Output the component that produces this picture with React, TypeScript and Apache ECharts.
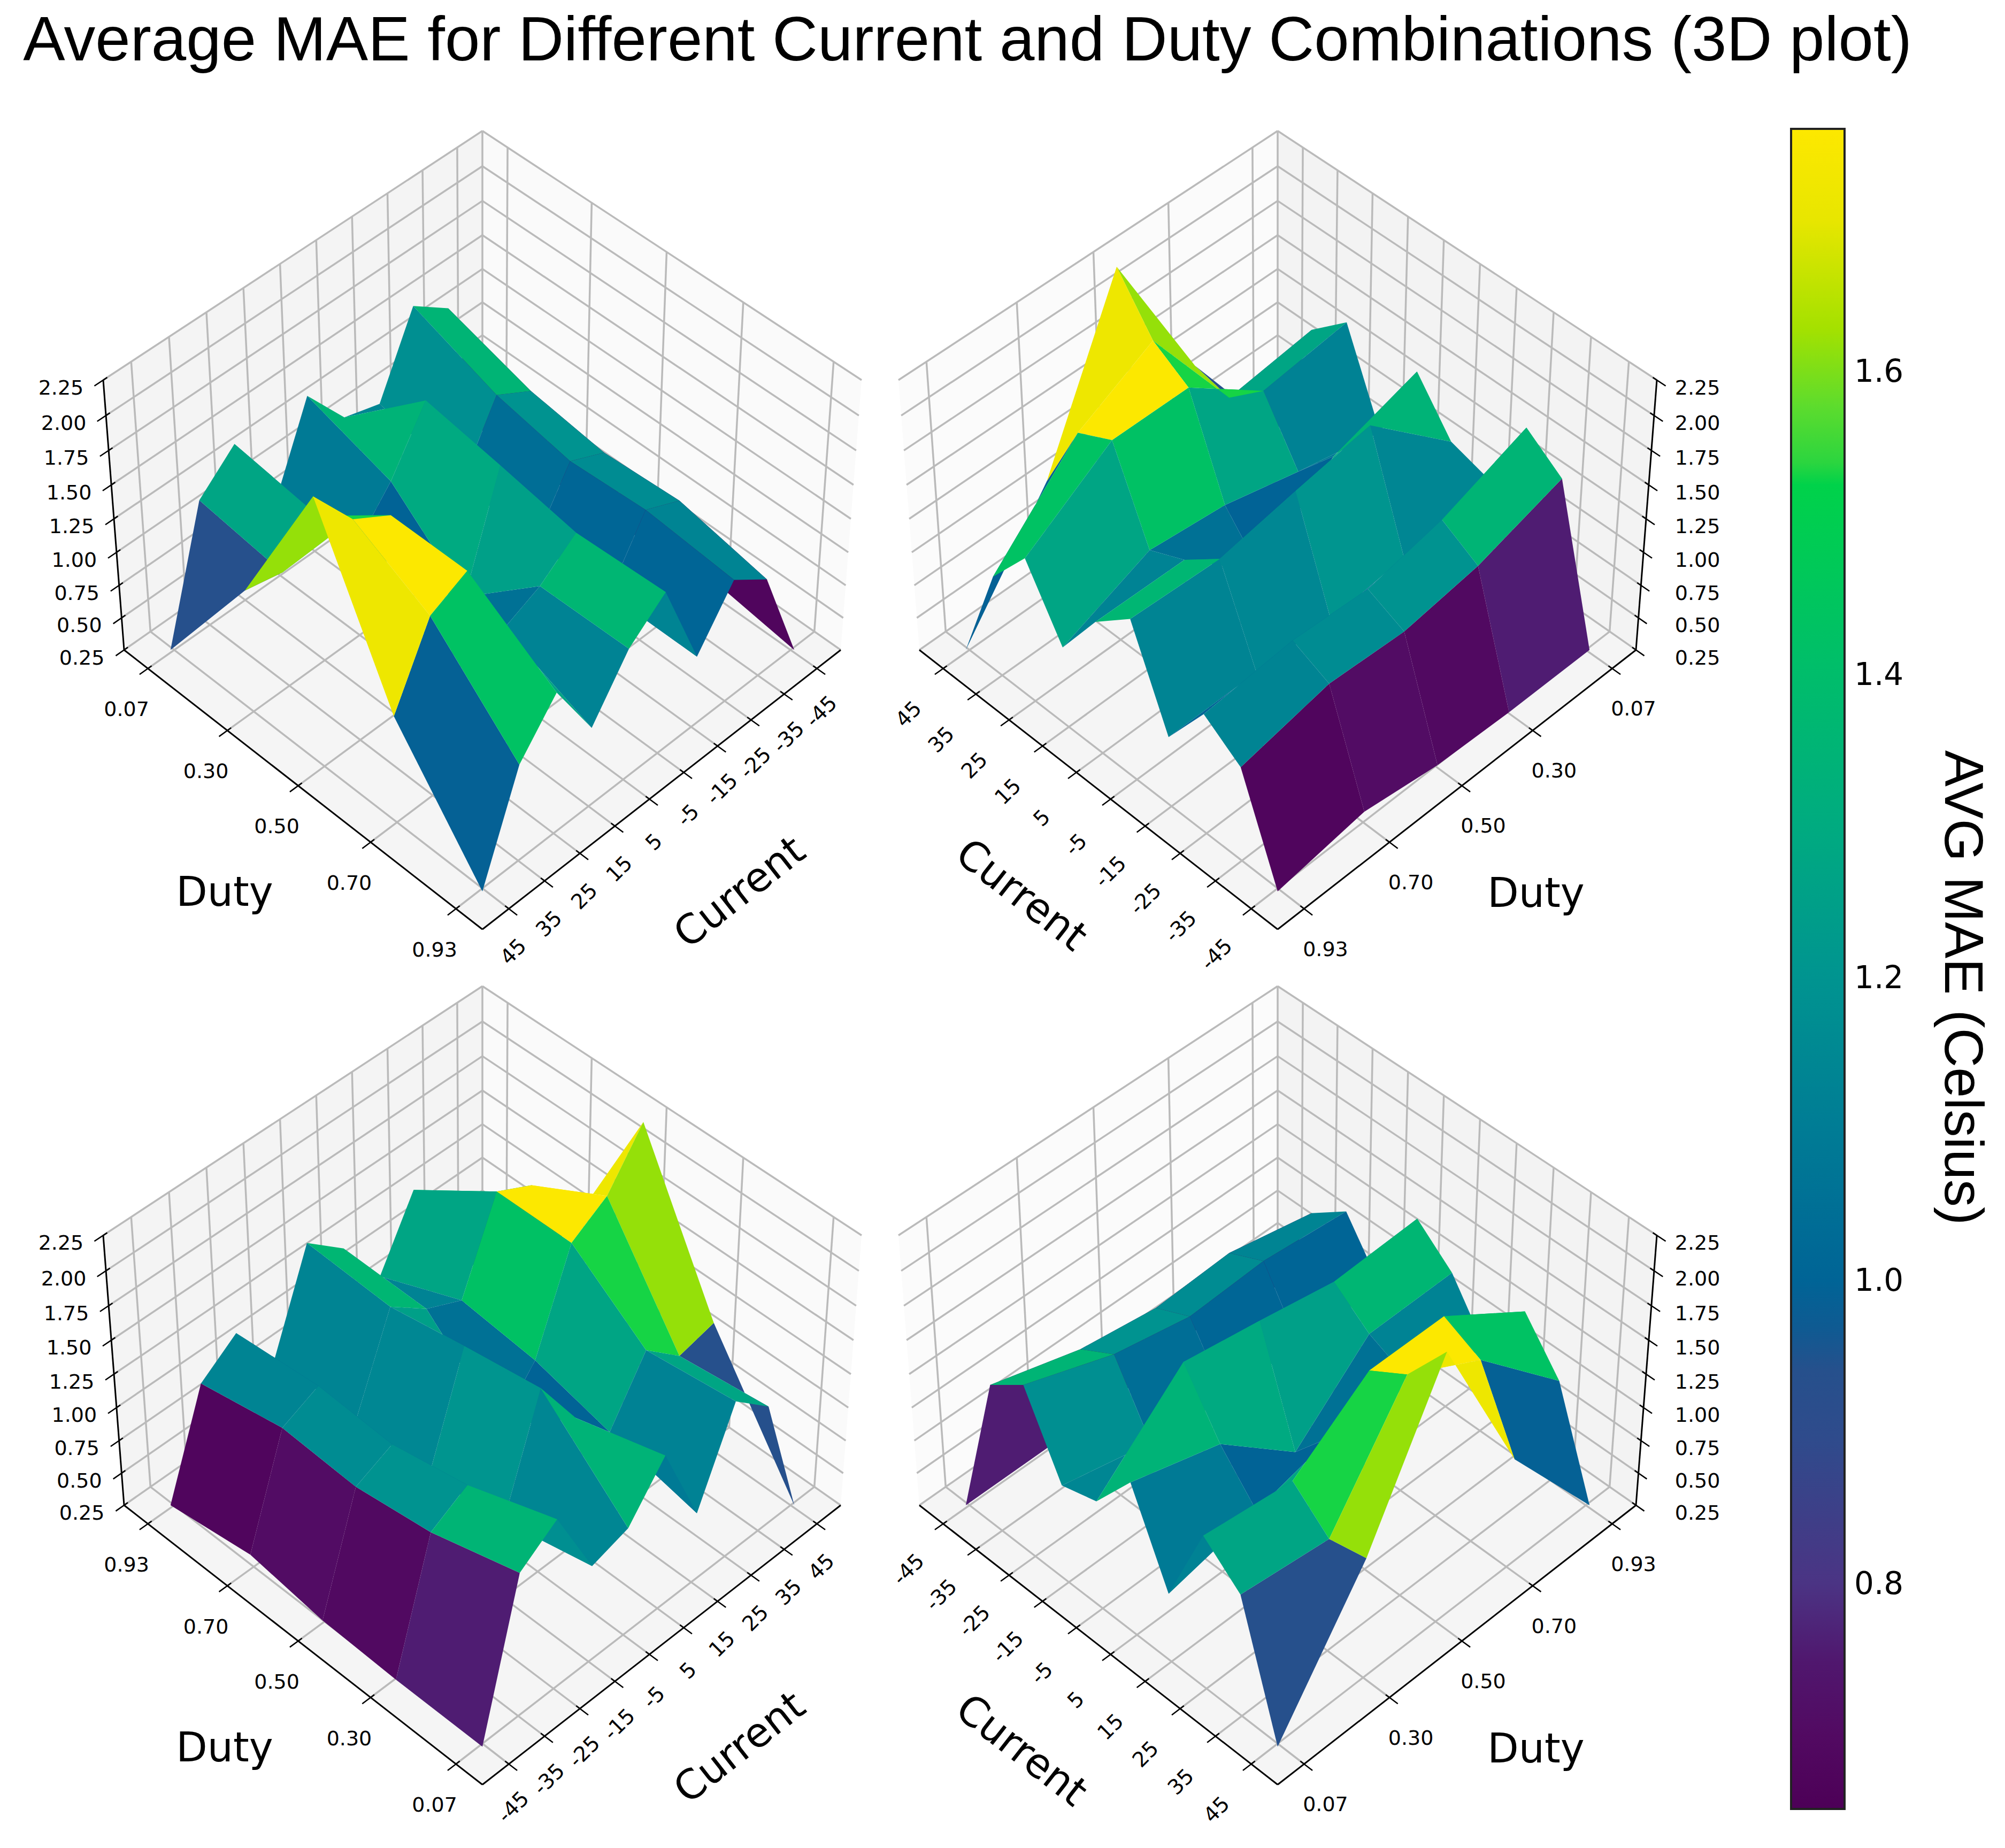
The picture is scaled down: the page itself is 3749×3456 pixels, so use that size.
import { useEffect, useRef } from 'react';
import * as echarts from 'echarts';

const currents = [-45, -35, -25, -15, -5, 5, 15, 25, 35, 45];
const duties = [0.07, 0.3, 0.5, 0.7, 0.93];
const dutyLabels = ['0.07', '0.30', '0.50', '0.70', '0.93'];
const zTicks = ['0.25', '0.50', '0.75', '1.00', '1.25', '1.50', '1.75', '2.00', '2.25'];

// AVG MAE per current, one value per duty (0.07 .. 0.93)
const maeM45 = [0.25, 0.25, 0.27, 0.35, 0.25];
const maeM35 = [1.36, 1.17, 1.09, 1.12, 0.99];
const maeM25 = [1.55, 1.32, 1.21, 1.24, 1.18];
const maeM15 = [1.0, 0.85, 0.78, 0.8, 0.8];
const maeM5 = [1.08, 1.64, 1.55, 1.45, 1.48];
const maeP5 = [1.42, 1.23, 0.76, 1.25, 1.26];
const maeP15 = [0.79, 0.93, 1.07, 1.13, 0.87];
const maeP25 = [1.43, 1.35, 1.75, 1.75, 1.34];
const maeP35 = [1.2, 1.12, 1.91, 1.62, 1.01];
const maeP45 = [0.25, 1.18, 2.26, 1.08, 0.25];
const mae = [maeM45, maeM35, maeM25, maeM15, maeM5, maeP5, maeP15, maeP25, maeP35, maeP45];

// colour bar
const cbMin = 0.651;
const cbMax = 1.76;
const cbTicks = [0.8, 1.0, 1.2, 1.4, 1.6];
const cmapValues = [0.651, 0.7, 0.748, 0.8, 0.895, 0.94, 0.968, 1.0, 1.1, 1.2, 1.3, 1.4, 1.525, 1.54, 1.577, 1.628, 1.7, 1.76];
const cmapColors = [
  '#4d0057', '#520a62', '#50176e', '#4b3484', '#2f4b8c', '#26508c', '#0f5a92', '#006496', '#007c95',
  '#009490', '#00ab80', '#00bd6b', '#00d24a', '#2cd53f', '#5ddc2d', '#a4e100', '#e8e600', '#fde800',
];

const hex = (c: string) => [1, 3, 5].map((i) => parseInt(c.slice(i, i + 2), 16));

const colorOf = (v: number) => {
  if (v <= cmapValues[0]) return cmapColors[0];
  for (let i = 1; i < cmapValues.length; i++) {
    if (v <= cmapValues[i]) {
      const f = (v - cmapValues[i - 1]) / (cmapValues[i] - cmapValues[i - 1]);
      const a = hex(cmapColors[i - 1]);
      const b = hex(cmapColors[i]);
      return `rgb(${a.map((x, k) => Math.round(x + (b[k] - x) * f)).join(',')})`;
    }
  }
  return cmapColors[cmapColors.length - 1];
};

// box coordinates as matplotlib's perspective view gives them, s and t run along the floor
const project = (s: number, t: number, w: number) => {
  const W = 1 - 0.0522 * (s + t + w);
  return [(635 * (s - t)) / W, (468 * (s + t - 1) - 452 * w) / W];
};

const currentPos = (c: number) => 0.5 + (c * 0.43) / 45;
const zPos = (z: number) => (z - 0.25) / 2;
// the surface reaches a touch past its own tick marks in the reference
const stretch = (v: number) => 0.5 + (v - 0.5) * 1.012;

type Panel = {
  cx: number;
  cy: number;
  map: (duty: number, cur: number) => number[];
  zRight: boolean;
  sTicks: number[];
  tTicks: number[];
  leftWall: string;
  rightWall: string;
};

const dutyPos = duties;
const curPos = currents.map(currentPos);

const panels: Panel[] = [
  { cx: 902, cy: 1215.5, map: (d, c) => [d, c], zRight: false, sTicks: dutyPos, tTicks: curPos, leftWall: '#f4f4f4', rightWall: '#fafafa' },
  { cx: 2389, cy: 1215.5, map: (d, c) => [1 - c, d], zRight: true, sTicks: curPos, tTicks: dutyPos, leftWall: '#fbfbfb', rightWall: '#f3f3f3' },
  { cx: 902, cy: 2815, map: (d, c) => [1 - d, 1 - c], zRight: false, sTicks: dutyPos, tTicks: curPos, leftWall: '#f4f4f4', rightWall: '#fafafa' },
  { cx: 2389, cy: 2815, map: (d, c) => [c, 1 - d], zRight: true, sTicks: curPos, tTicks: dutyPos, leftWall: '#fbfbfb', rightWall: '#f3f3f3' },
];

const GRID = '#bababa';

const poly = (pts: number[][], api: any, fill: string) => ({
  type: 'polygon',
  shape: { points: pts.map((p) => api.coord(p)) },
  style: { fill },
});

const seg = (a: number[], b: number[], api: any, stroke: string, lineWidth: number) => ({
  type: 'polyline',
  shape: { points: [api.coord(a), api.coord(b)] },
  style: { stroke, lineWidth, fill: 'none' },
});

const boxItem = (p: Panel) => (_params: any, api: any) => {
  const P = project;
  const children: any[] = [
    poly([P(0, 0, 0), P(0, 1, 0), P(0, 1, 1), P(0, 0, 1)], api, p.leftWall),
    poly([P(0, 0, 0), P(1, 0, 0), P(1, 0, 1), P(0, 0, 1)], api, p.rightWall),
    poly([P(0, 0, 0), P(1, 0, 0), P(1, 1, 0), P(0, 1, 0)], api, '#f5f5f5'),
  ];
  p.sTicks.forEach((s) => {
    children.push(seg(P(s, 0, 0), P(s, 1, 0), api, GRID, 3.5));
    children.push(seg(P(s, 0, 0), P(s, 0, 1), api, GRID, 3.5));
    children.push(seg(P(s, 0.99, 0), P(s, 1.022, 0), api, '#000', 2.5));
  });
  p.tTicks.forEach((t) => {
    children.push(seg(P(0, t, 0), P(1, t, 0), api, GRID, 3.5));
    children.push(seg(P(0, t, 0), P(0, t, 1), api, GRID, 3.5));
    children.push(seg(P(0.99, t, 0), P(1.022, t, 0), api, '#000', 2.5));
  });
  zTicks.forEach((_z, i) => {
    const w = i / (zTicks.length - 1);
    children.push(seg(P(0, 0, w), P(0, 1, w), api, GRID, 3.5));
    children.push(seg(P(0, 0, w), P(1, 0, w), api, GRID, 3.5));
    if (p.zRight) children.push(seg(P(0.99, 0, w), P(1.022, 0, w), api, '#000', 2.5));
    else children.push(seg(P(0, 0.99, w), P(0, 1.022, w), api, '#000', 2.5));
  });
  children.push(seg(P(0, 0, 0), P(0, 0, 1), api, GRID, 3.5));
  children.push(seg(P(0, 1, 0), P(1, 1, 0), api, '#000', 3));
  children.push(seg(P(1, 0, 0), P(1, 1, 0), api, '#000', 3));
  if (p.zRight) children.push(seg(P(1, 0, 0), P(1, 0, 1), api, '#000', 3));
  else children.push(seg(P(0, 1, 0), P(0, 1, 1), api, '#000', 3));
  return { type: 'group', children };
};

const corner = (p: Panel, c: number, d: number) => {
  const [s, t] = p.map(duties[d], curPos[c]);
  return [stretch(s), stretch(t), zPos(mae[c][d])];
};

// faces far to near, the way plot_surface sorts its polygons
const facesFor = (p: Panel) => {
  const faces: { value: number[]; depth: number }[] = [];
  for (let c = 0; c < currents.length - 1; c++) {
    for (let d = 0; d < duties.length - 1; d++) {
      const corners = [corner(p, c, d), corner(p, c + 1, d), corner(p, c + 1, d + 1), corner(p, c, d + 1)];
      const depth = corners.reduce((acc, q) => acc + q[0] + q[1] + q[2], 0) / 4;
      faces.push({ value: [c, d], depth });
    }
  }
  return faces.sort((a, b) => a.depth - b.depth).map((f) => f.value);
};

const faceItem = (p: Panel) => (_params: any, api: any) => {
  const c = api.value(0);
  const d = api.value(1);
  const corners = [corner(p, c, d), corner(p, c + 1, d), corner(p, c + 1, d + 1), corner(p, c, d + 1)];
  const avg = (mae[c][d] + mae[c + 1][d] + mae[c + 1][d + 1] + mae[c][d + 1]) / 4;
  return poly(
    corners.map((q) => project(q[0], q[1], q[2])),
    api,
    colorOf(avg)
  );
};

const label = (text: string, x: number, y: number, fontSize: number, rotation = 0, fontFamily = 'DejaVu Sans') => ({
  type: 'text',
  x,
  y,
  rotation,
  silent: true,
  z: 20,
  style: { text, fontSize, fontFamily, fill: '#000', align: 'center', verticalAlign: 'middle' },
});

const labelsFor = (p: Panel, idx: number) => {
  const out: any[] = [];
  const at = (s: number, t: number, w: number) => {
    const q = project(s, t, w);
    return [p.cx + q[0], p.cy + q[1]];
  };
  const dutyText = idx === 0 || idx === 1 ? dutyLabels : [...dutyLabels].reverse();
  const curText = currents.map(String);
  const TICK = 38;
  const TICK_ROT = 39;
  if (!p.zRight) {
    p.sTicks.forEach((s, i) => {
      const q = at(s, 1, 0);
      out.push(label(dutyText[i], q[0] - 40, q[1] + 76, TICK));
    });
    p.tTicks.forEach((t, i) => {
      // tTicks run from the far end to the near end of the right-hand edge
      const q = at(1, t, 0);
      const text = idx === 0 ? curText[i] : curText[curText.length - 1 - i];
      out.push(label(text, q[0] + 8, q[1] + 80, TICK_ROT, Math.PI / 4));
    });
    out.push(label('Duty', p.cx - 482, p.cy + 452, 76));
    out.push(label('Current', p.cx + 480, p.cy + 452, 76, (38 * Math.PI) / 180));
  } else {
    p.sTicks.forEach((s, i) => {
      const q = at(s, 1, 0);
      const text = idx === 1 ? curText[curText.length - 1 - i] : curText[i];
      out.push(label(text, q[0] - 65, q[1] + 85, TICK_ROT, Math.PI / 4));
    });
    p.tTicks.forEach((t, i) => {
      const q = at(1, t, 0);
      out.push(label(dutyText[i], q[0] + 40, q[1] + 75, TICK));
    });
    out.push(label('Duty', p.cx + 483, p.cy + 454, 76));
    out.push(label('Current', p.cx - 478, p.cy + 457, 76, (-38 * Math.PI) / 180));
  }
  zTicks.forEach((z, i) => {
    const w = i / (zTicks.length - 1);
    if (p.zRight) {
      const q = at(1, 0, w);
      out.push(label(z, 3174 + (p.cx - 2389), q[1] + 14, TICK));
    } else {
      const q = at(0, 1, w);
      out.push(label(z, q[0] - 79, q[1] + 14, TICK));
    }
  });
  return out;
};

const App = () => {
  const chartRef = useRef<HTMLDivElement>(null);

  useEffect(() => {
    if (!chartRef.current) return;
    document.body.style.margin = '0';

    const chart = echarts.init(chartRef.current, undefined, { renderer: 'svg' });

    const grids: any[] = panels.map((p) => ({ left: p.cx - 760, top: p.cy - 1000, width: 1520, height: 1600 }));
    grids.push({ left: 3349, top: 241, width: 100, height: 3142 });

    const xAxes: any[] = panels.map((_p, i) => ({ type: 'value', gridIndex: i, min: -760, max: 760, show: false }));
    xAxes.push({ type: 'value', gridIndex: 4, min: 0, max: 1, show: false });

    const yAxes: any[] = panels.map((_p, i) => ({ type: 'value', gridIndex: i, min: -1000, max: 600, inverse: true, show: false }));
    yAxes.push({
      type: 'value',
      gridIndex: 4,
      position: 'right',
      min: cbMin,
      max: cbMax,
      axisLine: { show: false },
      splitLine: { show: false },
      axisTick: { show: true, length: 14, customValues: cbTicks, lineStyle: { color: '#000', width: 2.5 } },
      axisLabel: {
        show: true,
        customValues: cbTicks,
        margin: 18,
        fontSize: 58,
        fontFamily: 'DejaVu Sans',
        color: '#000',
        formatter: (v: number) => v.toFixed(1),
      },
    });

    const series: any[] = [];
    panels.forEach((p, i) => {
      series.push({
        type: 'custom',
        xAxisIndex: i,
        yAxisIndex: i,
        clip: false,
        silent: true,
        z: 1,
        data: [[0, 0]],
        renderItem: boxItem(p),
      });
      series.push({
        type: 'custom',
        xAxisIndex: i,
        yAxisIndex: i,
        clip: false,
        silent: true,
        z: 2,
        data: facesFor(p),
        renderItem: faceItem(p),
      });
    });

    const gradient = new echarts.graphic.LinearGradient(
      0,
      1,
      0,
      0,
      cmapValues.map((v, i) => ({ offset: (v - cbMin) / (cbMax - cbMin), color: cmapColors[i] }))
    );
    series.push({
      type: 'custom',
      xAxisIndex: 4,
      yAxisIndex: 4,
      clip: false,
      silent: true,
      data: [[0, cbMin]],
      renderItem: (_params: any, api: any) => {
        const a = api.coord([0, cbMax]);
        const b = api.coord([1, cbMin]);
        return {
          type: 'rect',
          shape: { x: a[0], y: a[1], width: b[0] - a[0], height: b[1] - a[1] },
          style: { fill: gradient, stroke: '#222', lineWidth: 4 },
        };
      },
    });

    const texts: any[] = [
      label('Average MAE for Different Current and Duty Combinations (3D plot)', 1809, 72, 117.6, 0, 'Liberation Sans'),
      label('AVG MAE (Celsius)', 3672, 1847, 102, -Math.PI / 2, 'Liberation Sans'),
    ];
    panels.forEach((p, i) => texts.push(...labelsFor(p, i)));

    chart.setOption({
      animation: false,
      backgroundColor: '#fff',
      grid: grids,
      xAxis: xAxes,
      yAxis: yAxes,
      series,
      graphic: { elements: texts },
    });

    return () => {
      chart.dispose();
    };
  }, []);

  return <div ref={chartRef} style={{ width: 3749, height: 3456 }} />;
};

export default App;
